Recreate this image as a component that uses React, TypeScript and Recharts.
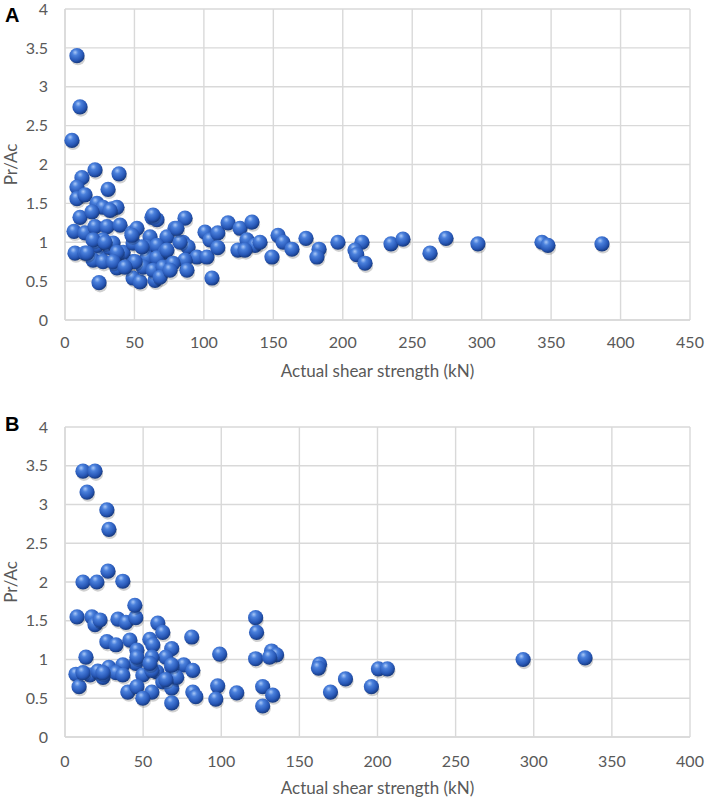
import React from 'react';
import { ScatterChart, Scatter, XAxis, YAxis, CartesianGrid, Label } from 'recharts';

// panel A: actual shear strength (kN) vs Pr/Ac
const strengthA = [
  8.6, 10.8, 5, 21.6, 38.9, 12.2, 8.6, 31, 8.6, 14.4, 23, 27.4, 33.8, 37.4, 10.8, 19.4,
  6.5, 14.4, 21.6, 30.2, 39.6, 48.2, 51.8, 62.6, 66.2, 86.4, 79.2, 61.2, 73.4, 59, 66.2, 72,
  85, 88.6, 95, 102.2, 100.8, 104.4, 110, 110, 117.4, 126, 134.6, 131, 136.8, 124.5, 7.2, 14.4,
  25.2, 36, 37.4, 49, 59, 66.2, 73.4, 86.4, 87.8, 24.5, 49, 54, 64.8, 68.4, 105.8, 32.4,
  41.8, 23, 27.4, 34.6, 49, 55.4, 20.2, 27.4, 56.2, 63.4, 70.6, 77.8, 82.8, 153.4, 157, 149,
  163.4, 173.5, 182.9, 181.4, 196.5, 213.8, 208.8, 210, 216, 234.7, 243.3, 262.8, 274.3, 297.3, 343.4, 347.7,
  386.6, 140.4, 129.6, 32.4, 63.4, 48.2, 80.6, 20.2, 28.8, 37.4, 50.4, 68.4, 34.6, 43.2, 75.6, 15.8,
];
const ratioA = [
  3.4, 2.74, 2.31, 1.93, 1.88, 1.83, 1.71, 1.68, 1.56, 1.61, 1.5, 1.45, 1.43, 1.45, 1.32, 1.39,
  1.14, 1.12, 1.2, 1.2, 1.22, 1.12, 1.18, 1.32, 1.29, 1.31, 1.18, 1.07, 1.07, 0.94, 0.96, 0.87,
  1.0, 0.94, 0.81, 0.81, 1.13, 1.03, 1.12, 0.93, 1.25, 1.18, 1.26, 1.03, 0.96, 0.9, 0.86, 0.86,
  0.8, 0.75, 0.67, 0.75, 0.8, 0.8, 0.9, 0.77, 0.64, 0.48, 0.54, 0.49, 0.51, 0.6, 0.54, 0.93,
  0.87, 0.96, 1.03, 0.99, 0.99, 0.94, 0.77, 0.75, 0.68, 0.64, 0.68, 0.73, 1.0, 1.09, 1.0, 0.81,
  0.91, 1.05, 0.91, 0.81, 1.0, 1.0, 0.9, 0.84, 0.73, 0.98, 1.04, 0.86, 1.05, 0.98, 1.0, 0.96,
  0.98, 1.0, 0.9, 1.41, 1.35, 1.09, 1.18, 1.03, 1.0, 0.87, 0.75, 0.55, 0.75, 0.68, 0.64, 0.86,
];

// panel B
const strengthB = [
  11.5, 19.2, 14.1, 26.8, 28.1, 27.5, 11.5, 20.4, 37, 7.7, 17.2, 19.2, 22.4, 33.9, 39, 45.3,
  44.7, 59.4, 62.6, 81.1, 26.8, 32.6, 41.5, 46, 54.3, 56.2, 68.3, 64.5, 55.6, 45.3, 13.4, 7,
  16, 24.3, 28.1, 37, 32.6, 49.8, 58.8, 68.3, 76, 81.8, 9, 40.2, 46, 55.6, 49.8, 62.6,
  68.3, 68.3, 81.8, 83.7, 97.7, 96.5, 99, 109.9, 11.5, 21, 55.6, 71.5, 122, 122.6, 122, 132.2,
  135.4, 130.9, 126.5, 132.9, 126.5, 162.9, 162.2, 169.9, 179.5, 196.1, 200.6, 206.3, 293.2, 332.8, 46, 54.3,
  68.3, 37, 24.3, 64.5,
];
const ratioB = [
  3.43, 3.43, 3.16, 2.93, 2.68, 2.14, 2.0, 2.0, 2.01, 1.55, 1.55, 1.45, 1.51, 1.52, 1.48, 1.54,
  1.7, 1.47, 1.35, 1.29, 1.23, 1.19, 1.25, 1.12, 1.26, 1.19, 1.14, 1.03, 1.03, 0.95, 1.03, 0.81,
  0.8, 0.77, 0.9, 0.93, 0.83, 0.8, 0.84, 0.9, 0.93, 0.86, 0.65, 0.58, 0.65, 0.58, 0.5, 0.71,
  0.63, 0.44, 0.58, 0.52, 0.66, 0.49, 1.07, 0.57, 0.83, 0.85, 0.86, 0.77, 1.54, 1.35, 1.01, 1.11,
  1.06, 1.03, 0.65, 0.54, 0.4, 0.94, 0.89, 0.58, 0.75, 0.65, 0.88, 0.88, 1.0, 1.02, 1.03, 0.95,
  0.93, 0.8, 0.83, 0.74,
];

const xTicksA = [0, 50, 100, 150, 200, 250, 300, 350, 400, 450];
const xTicksB = [0, 50, 100, 150, 200, 250, 300, 350, 400];
const yTicks = [0, 0.5, 1, 1.5, 2, 2.5, 3, 3.5, 4];

const dataA = strengthA.map((x, i) => ({ x, y: ratioA[i] }));
const dataB = strengthB.map((x, i) => ({ x, y: ratioB[i] }));

const FONT = 'Lato, "Open Sans", sans-serif';
const TXT = '#595959';
const GRID = '#d9d9d9';

function Ball(props: any) {
  const { cx, cy } = props;
  if (cx == null || cy == null) return null;
  return (
    <g>
      <circle cx={cx + 1} cy={cy + 2.5} r={7.2} fill="rgba(0,0,0,0.18)" />
      <circle cx={cx} cy={cy} r={7.6} fill="url(#ballGrad)" />
    </g>
  );
}

function Panel({ data, xTicks, xMax, height, top, tickGap }: any) {
  return (
    <ScatterChart width={706} height={height} margin={{ top, right: 16, bottom: 0, left: 0 }}>
      <CartesianGrid stroke={GRID} strokeWidth={1.4} />
      <XAxis
        type="number"
        dataKey="x"
        domain={[0, xMax]}
        ticks={xTicks}
        height={60}
        axisLine={{ stroke: GRID, strokeWidth: 1.4 }}
        tickLine={false}
        tickSize={0}
        tickMargin={tickGap}
        tick={{ fill: TXT, fontSize: 16, fontFamily: FONT }}
        interval={0}
      >
        <Label value="Actual shear strength (kN)" position="insideBottom" offset={3}
          style={{ fill: TXT, fontSize: 17, fontFamily: FONT }} />
      </XAxis>
      <YAxis
        type="number"
        dataKey="y"
        domain={[0, 4]}
        ticks={yTicks}
        width={65}
        axisLine={{ stroke: GRID, strokeWidth: 1.4 }}
        tickLine={false}
        tickSize={0}
        tickMargin={17}
        tick={{ fill: TXT, fontSize: 16, fontFamily: FONT }}
        interval={0}
      >
        <Label value="Pr/Ac" angle={-90} position="insideLeft" offset={11}
          style={{ fill: TXT, fontSize: 17, fontFamily: FONT, textAnchor: 'middle' }} />
      </YAxis>
      <Scatter data={data} shape={<Ball />} isAnimationActive={false} />
    </ScatterChart>
  );
}

export default function App() {
  const tag: React.CSSProperties = {
    position: 'absolute', left: 5, fontFamily: '"Liberation Sans", Arial, sans-serif',
    fontWeight: 'bold', fontSize: 20, lineHeight: '20px', color: '#000',
  };
  return (
    <div style={{ position: 'absolute', left: 0, top: 0, width: 706, height: 799, background: '#fff', overflow: 'hidden' }}>
      <svg width={0} height={0} style={{ position: 'absolute' }}>
        <defs>
          <radialGradient id="ballGrad" cx="40%" cy="35%" r="65%" fx="38%" fy="28%">
            <stop offset="0%" stopColor="#a9c8f7" />
            <stop offset="30%" stopColor="#4a80dc" />
            <stop offset="75%" stopColor="#2757b6" />
            <stop offset="100%" stopColor="#173a80" />
          </radialGradient>
        </defs>
      </svg>
      <div style={{ position: 'absolute', left: 0, top: 0 }}>
        <Panel data={dataA} xTicks={xTicksA} xMax={450} height={380} top={9} tickGap={17} />
      </div>
      <div style={{ position: 'absolute', left: 0, top: 400 }}>
        <Panel data={dataB} xTicks={xTicksB} xMax={400} height={397} top={27} tickGap={19} />
      </div>
      <div style={{ ...tag, top: 5 }}>A</div>
      <div style={{ ...tag, top: 414 }}>B</div>
    </div>
  );
}
